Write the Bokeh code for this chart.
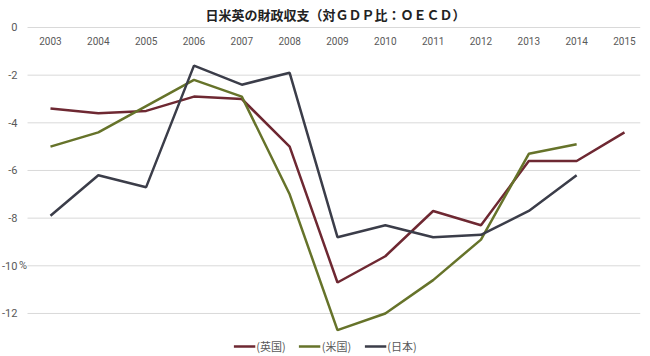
from bokeh.plotting import figure
from bokeh.models import Label, Legend, LegendItem, Range1d
from bokeh.core.properties import value
from bokeh.embed import file_html
from bokeh.resources import INLINE

years = [2003, 2004, 2005, 2006, 2007, 2008, 2009, 2010, 2011, 2012, 2013, 2014, 2015]
uk = [-3.4, -3.6, -3.5, -2.9, -3.0, -5.0, -10.7, -9.6, -7.7, -8.3, -5.6, -5.6, -4.4]
us_years = years[:12]
us = [-5.0, -4.4, -3.3, -2.2, -2.9, -7.0, -12.7, -12.0, -10.6, -8.9, -5.3, -4.9]
jp_years = years[:12]
jp = [-7.9, -6.2, -6.7, -1.6, -2.4, -1.9, -8.8, -8.3, -8.8, -8.7, -7.7, -6.2]
y_ticks = [0, -2, -4, -6, -8, -10, -12]
series_names = ["(英国)", "(米国)", "(日本)"]
title_text = "日米英の財政収支（対ＧＤＰ比：ＯＥＣＤ）"

colors = ["#6E2832", "#66732A", "#3B3D49"]

# frame fills the whole canvas; 47.83 px per year, 23.83 px per unit
X0, X1 = 2001.955, 2015.544
Y0, Y1 = -13.806, 1.133
grid_left, grid_right = 2002.52, 2015.33
ylab_x = 2002.31

p = figure(width=650, height=356, output_backend="svg", toolbar_location=None,
           x_range=Range1d(X0, X1), y_range=Range1d(Y0, Y1),
           min_border=0)
p.outline_line_color = None
p.background_fill_color = "white"
p.border_fill_color = "white"
p.axis.visible = False
p.grid.visible = False

# horizontal gridlines at y ticks
p.segment(x0=[grid_left] * len(y_ticks), x1=[grid_right] * len(y_ticks),
          y0=y_ticks, y1=y_ticks, line_color="#D9D9D9", line_width=1)

# y tick labels
p.text(x=[ylab_x] * len(y_ticks), y=y_ticks, text=[str(t) for t in y_ticks],
       text_align="right", text_baseline="middle", text_color="#595959",
       text_font=value("Roboto"), text_font_size="11px")

# year labels under the zero line
p.text(x=years, y=[-0.58] * len(years), text=[str(y) for y in years],
       text_align="center", text_baseline="middle", text_color="#595959",
       text_font=value("Roboto"), text_font_size="10px")

r1 = p.line(years, uk, line_color=colors[0], line_width=2.5)
r2 = p.line(us_years, us, line_color=colors[1], line_width=2.5)
r3 = p.line(jp_years, jp, line_color=colors[2], line_width=2.5)

legend = Legend(items=[LegendItem(label=series_names[0], renderers=[r1]),
                       LegendItem(label=series_names[1], renderers=[r2]),
                       LegendItem(label=series_names[2], renderers=[r3])],
                location="bottom_center", orientation="horizontal",
                border_line_color=None, background_fill_alpha=0,
                label_text_font="Noto Sans CJK JP", label_text_font_size="11px",
                label_text_color="#595959", glyph_width=22, glyph_height=14,
                label_standoff=1, spacing=13, padding=0, margin=2)
p.add_layout(legend)

p.add_layout(Label(x=2008.96, y=0.545, text=title_text, text_align="center",
                   text_baseline="middle", text_font="Noto Sans CJK JP",
                   text_font_size="13px", text_font_style="bold", text_color="#222222"))
p.add_layout(Label(x=2002.34, y=-10.0, text="%", text_align="left",
                   text_baseline="middle", text_font="Roboto",
                   text_font_size="11px", text_color="#595959"))

open("out.html", "w").write(file_html(p, INLINE))
